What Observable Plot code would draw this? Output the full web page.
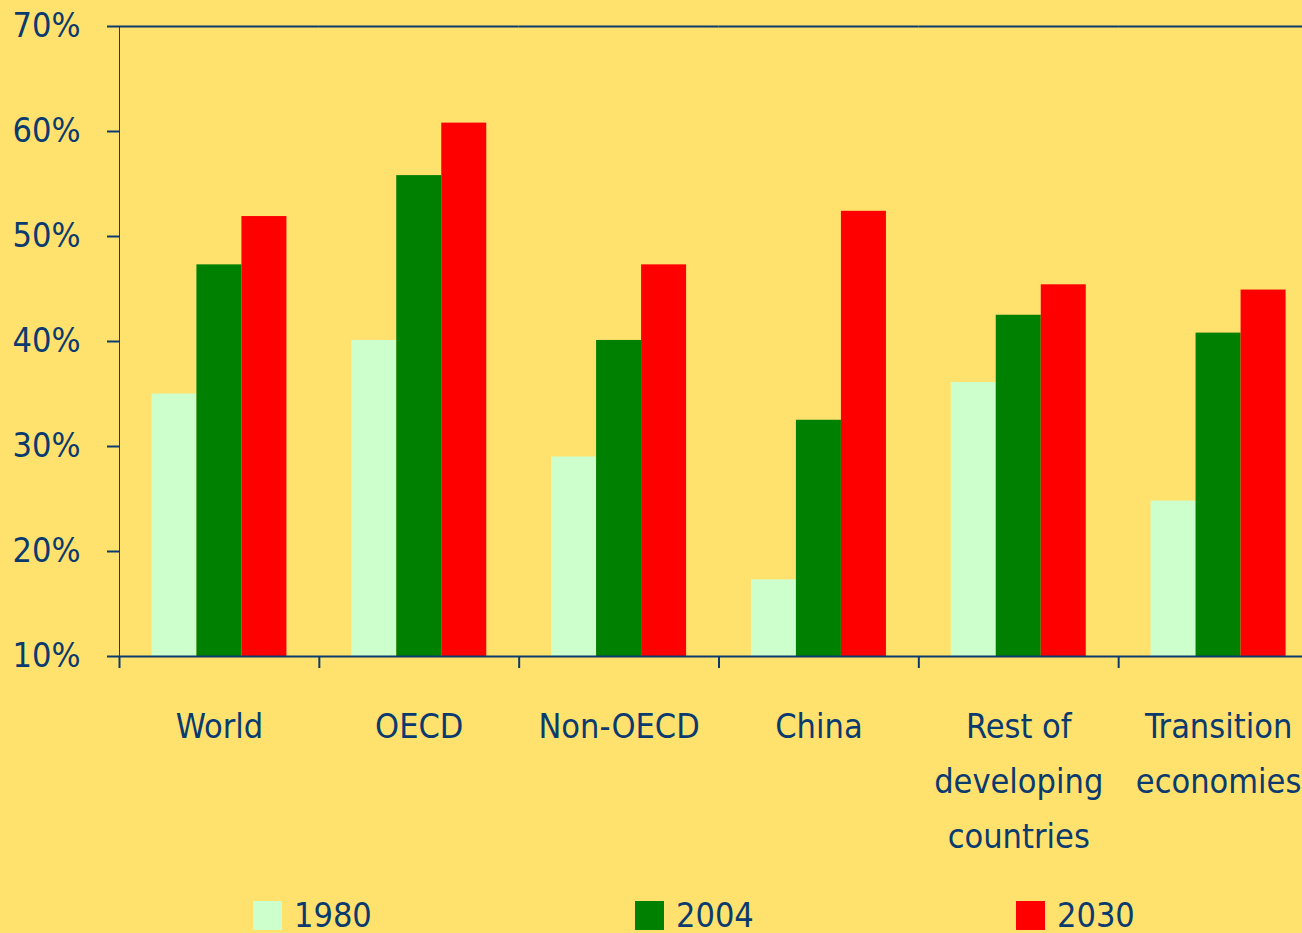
<!DOCTYPE html>
<html>
<head>
<meta charset="utf-8">
<script src="https://cdn.jsdelivr.net/npm/d3@7"></script>
<script src="https://cdn.jsdelivr.net/npm/@observablehq/plot@0.6"></script>
<style>
  html, body { margin: 0; padding: 0; background: #FFE16E; overflow: hidden; }
  #chart svg { display: block; }
  #chart svg g[aria-label^="y-axis"] { stroke-width: 2px; }
  .legend { position: relative; height: 43px; font-family: "Liberation Sans Narrow", "Arial Narrow", "DejaVu Sans Condensed", sans-serif; font-size: 34px; color: #0A3A6E; }
  .legend .item { position: absolute; top: 0; display: flex; align-items: flex-start; }
  .legend .sw { width: 29px; height: 29px; margin-top: 11px; margin-right: 12px; }
  .legend .lb { line-height: 34px; margin-top: 8px; }
</style>
</head>
<body>
<div id="chart"></div>
<div class="legend" id="legend"></div>
<script>
const regions = ["World", "OECD", "Non-OECD", "China", "Rest of developing countries", "Transition economies"];
const regionLabels = ["World", "OECD", "Non-OECD", "China", "Rest of\ndeveloping\ncountries", "Transition\neconomies"];
const years = ["1980", "2004", "2030"];
const v1980 = [35.0, 40.1, 29.0, 17.3, 36.1, 24.8];
const v2004 = [47.3, 55.8, 40.1, 32.5, 42.5, 40.8];
const v2030 = [51.9, 60.8, 47.3, 52.4, 45.4, 44.9];
const yTicks = [10, 20, 30, 40, 50, 60, 70];
const colors = ["#CCFFCC", "#008000", "#FF0000"];

const series = [v1980, v2004, v2030];
const data = [];
regions.forEach((r, i) => years.forEach((y, j) => data.push({region: r, year: y, value: series[j][i]})));
const labelOf = new Map(regions.map((r, i) => [r, regionLabels[i]]));

const ink = "#0A3A6E";
const W = 1302, H = 890, mL = 119, mR = -16, mT = 26, mB = H - 656;
const facetW = (W - mL - mR) / regions.length;

const chart = Plot.plot({
  width: W,
  height: H,
  marginLeft: mL,
  marginRight: mR,
  marginTop: mT,
  marginBottom: mB,
  style: {background: "transparent", color: ink, fontFamily: '"Liberation Sans Narrow", "Arial Narrow", "DejaVu Sans Condensed", sans-serif', fontSize: "34px"},
  fx: {domain: regions, padding: 0, round: false},
  x: {domain: years, paddingInner: 0, paddingOuter: 0.72, round: false, axis: null},
  y: {domain: [10, 70], ticks: yTicks, tickFormat: d => d + "%", tickSize: 12, tickPadding: 27, line: true, label: null},
  color: {domain: years, range: colors},
  marks: [
    Plot.barY(data, {fx: "region", x: "year", y1: 10, y2: "value", fill: "year"}),
    Plot.ruleY([10], {stroke: ink, strokeWidth: 2}),
    Plot.ruleY([70], {stroke: ink, strokeWidth: 2}),
    Plot.axisFx({anchor: "bottom", tickSize: 12, tickFormat: () => "", dx: -facetW / 2, stroke: ink, strokeWidth: 2, label: null}),
    Plot.axisFx({anchor: "bottom", tickSize: 0, tickPadding: 42, tickFormat: d => labelOf.get(d), lineHeight: 1.62, fill: ink, label: null})
  ]
});
document.getElementById("chart").appendChild(chart);

// Legend
const legendPos = [253, 635, 1016];
const legend = document.getElementById("legend");
years.forEach((y, i) => {
  const it = document.createElement("div");
  it.className = "item";
  it.style.left = legendPos[i] + "px";
  const sw = document.createElement("div");
  sw.className = "sw";
  sw.style.background = colors[i];
  const lb = document.createElement("div");
  lb.className = "lb";
  lb.textContent = y;
  it.appendChild(sw);
  it.appendChild(lb);
  legend.appendChild(it);
});
</script>
</body>
</html>
